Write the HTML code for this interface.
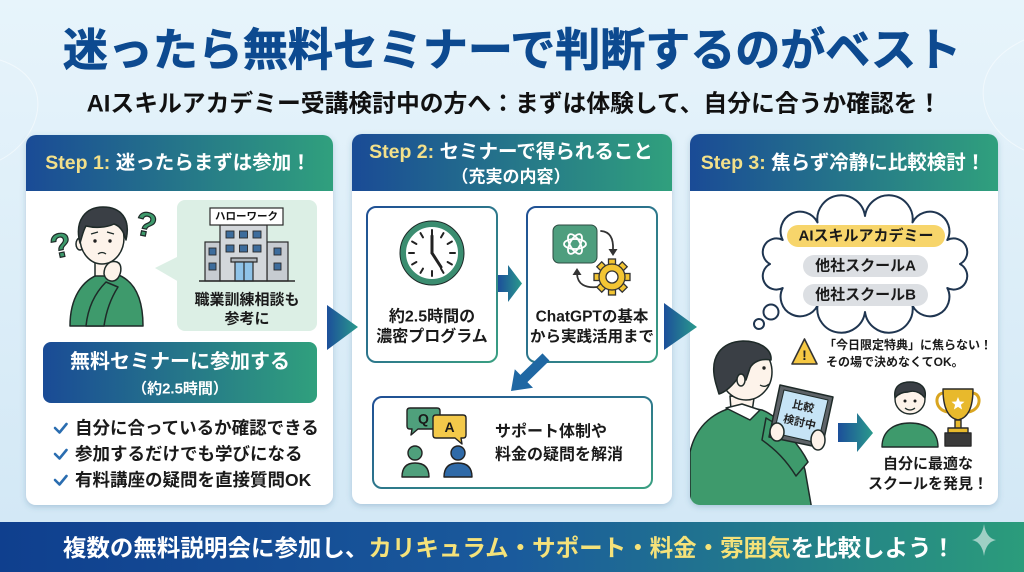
<!DOCTYPE html>
<html><head><meta charset="utf-8">
<style>
html,body{margin:0;padding:0;width:1024px;height:572px;overflow:hidden;background:#dcedf8;}
svg{display:block;}
text{font-family:"Liberation Sans","Noto Sans CJK JP",sans-serif;font-weight:700;}
</style></head>
<body>
<svg width="1024" height="572" viewBox="0 0 1024 572" xmlns="http://www.w3.org/2000/svg">
<defs>
  <linearGradient id="bg" x1="0" y1="0" x2="0" y2="1">
    <stop offset="0" stop-color="#e7f4fb"/><stop offset="1" stop-color="#d1e7f5"/>
  </linearGradient>
  <linearGradient id="hdr" x1="0" y1="0" x2="1" y2="0">
    <stop offset="0" stop-color="#1a4b96"/><stop offset="1" stop-color="#30a07d"/>
  </linearGradient>
  <linearGradient id="bar" x1="0" y1="0" x2="1" y2="0">
    <stop offset="0" stop-color="#0f3f8e"/><stop offset="0.5" stop-color="#1a5a9c"/><stop offset="1" stop-color="#2b9c7b"/>
  </linearGradient>
  <linearGradient id="arr" x1="0" y1="0" x2="1" y2="0">
    <stop offset="0" stop-color="#1c4f9a"/><stop offset="1" stop-color="#2a9a8c"/>
  </linearGradient>
  <linearGradient id="bord" x1="0" y1="0" x2="1" y2="1">
    <stop offset="0" stop-color="#1f4f95"/><stop offset="1" stop-color="#3a9f82"/>
  </linearGradient>
  <filter id="sh" x="-5%" y="-5%" width="110%" height="110%">
    <feDropShadow dx="0" dy="2" stdDeviation="3" flood-color="#2a5a8a" flood-opacity="0.25"/>
  </filter>
  <clipPath id="p3clip"><path d="M690,191 H998 V495 A10,10 0 0 1 988,505 H700 A10,10 0 0 1 690,495 Z"/></clipPath>
</defs>

<rect x="0" y="0" width="1024" height="572" fill="url(#bg)"/>
<g stroke="#ffffff" stroke-opacity="0.5" fill="none" stroke-width="1">
  <path d="M0,60 C60,80 40,140 0,160"/>
  <path d="M1024,40 C960,70 980,130 1024,150"/>
</g>

<text x="512" y="50" font-size="45" font-weight="900" fill="#0d4a90" text-anchor="middle" dominant-baseline="central" stroke="#0d4a90" stroke-width="0.8">迷ったら無料セミナーで判断するのがベスト</text>
<text x="514" y="104" font-size="23.8" fill="#111" text-anchor="middle" dominant-baseline="central">AIスキルアカデミー受講検討中の方へ：まずは体験して、自分に合うか確認を！</text>

<rect x="26" y="135" width="307" height="370" rx="10" fill="#fff" filter="url(#sh)"/>
<rect x="352" y="134" width="320" height="370" rx="10" fill="#fff" filter="url(#sh)"/>
<rect x="690" y="134" width="308" height="371" rx="10" fill="#fff" filter="url(#sh)"/>
<path d="M26,191 V145 A10,10 0 0 1 36,135 H323 A10,10 0 0 1 333,145 V191 Z" fill="url(#hdr)"/>
<path d="M352,191 V144 A10,10 0 0 1 362,134 H662 A10,10 0 0 1 672,144 V191 Z" fill="url(#hdr)"/>
<path d="M690,191 V144 A10,10 0 0 1 700,134 H988 A10,10 0 0 1 998,144 V191 Z" fill="url(#hdr)"/>

<text x="178" y="163" font-size="19.5" fill="#fff" text-anchor="middle" dominant-baseline="central"><tspan fill="#f3e08a">Step 1:</tspan> 迷ったらまずは参加！</text>
<text x="511" y="152" font-size="19.5" fill="#fff" text-anchor="middle" dominant-baseline="central"><tspan fill="#f3e08a">Step 2:</tspan> セミナーで得られること</text>
<text x="511" y="177" font-size="17" fill="#fff" text-anchor="middle" dominant-baseline="central">（充実の内容）</text>
<text x="843" y="163" font-size="19.5" fill="#fff" text-anchor="middle" dominant-baseline="central"><tspan fill="#f3e08a">Step 3:</tspan> 焦らず冷静に比較検討！</text>

<polygon points="327,305 358,327 327,350" fill="url(#arr)"/>
<polygon points="664,303 697,327 664,350" fill="url(#arr)"/>

<!-- Panel 1 -->
<rect x="177" y="200" width="140" height="131" rx="8" fill="#dcefe5"/>
<polygon points="179,256 155,268 179,282" fill="#dcefe5"/>
<g stroke="#2a2a2a" stroke-width="1.2">
  <rect x="205" y="242" width="15" height="39" fill="#c7ccd1"/>
  <rect x="267" y="242" width="21" height="39" fill="#c7ccd1"/>
  <rect x="220" y="225" width="47" height="56" fill="#d3d7db"/>
  <rect x="210" y="208" width="73" height="17" fill="#fff"/>
  <g fill="#3d6c9c" stroke-width="0.9">
    <rect x="226" y="231" width="8" height="7"/><rect x="239.5" y="231" width="8" height="7"/><rect x="253" y="231" width="8" height="7"/>
    <rect x="226" y="245" width="8" height="7"/><rect x="239.5" y="245" width="8" height="7"/><rect x="253" y="245" width="8" height="7"/>
    <rect x="209" y="248" width="7" height="7"/><rect x="209" y="263" width="7" height="7"/>
    <rect x="274" y="248" width="7" height="7"/><rect x="274" y="263" width="7" height="7"/>
  </g>
  <rect x="231" y="258" width="26" height="4" fill="#aeb4ba"/>
  <rect x="235" y="262" width="18" height="19" fill="#8fc3e8"/>
  <line x1="244" y1="262" x2="244" y2="281"/>
  <line x1="199" y1="281" x2="295" y2="281" stroke-width="1.5"/>
</g>
<text x="246.5" y="216.5" font-size="10.5" fill="#111" text-anchor="middle" dominant-baseline="central" font-weight="400">ハローワーク</text>
<text x="247" y="300" font-size="15" fill="#1a1a1a" text-anchor="middle" dominant-baseline="central">職業訓練相談も</text>
<text x="247" y="319" font-size="15" fill="#1a1a1a" text-anchor="middle" dominant-baseline="central">参考に</text>

<g stroke="#1e2a28" stroke-width="1.5" stroke-linejoin="round">
  <path d="M70,326 C70,298 82,280 100,274 L116,274 C134,280 143,298 143,326 Z" fill="#3e9a6c"/>
  <path d="M95,258 L95,276 L111,276 L111,258 Z" fill="#fdf3ea"/>
  <ellipse cx="80" cy="244" rx="4" ry="6" fill="#fdf3ea"/>
  <ellipse cx="102" cy="238" rx="22" ry="26" fill="#fdf3ea"/>
  <path d="M80,243 C74,220 86,207 103,207 C121,207 131,219 126,240 C124,232 120,226 114,224 C106,228 94,228 86,226 C83,231 82,237 80,243 Z" fill="#3a3f45"/>
  <path d="M86,326 C88,306 96,292 106,282 L118,287 C111,298 106,312 104,326 Z" fill="#3e9a6c"/>
  <path d="M104,274 C104,265 110,260 117,262 C122,264 122,272 118,278 C114,283 106,282 104,274 Z" fill="#fdf3ea"/>
  <path d="M91,234 L98,232 M107,232 L114,234" fill="none" stroke-width="1.3"/>
  <path d="M98,254 Q102,251 106,254" fill="none" stroke-width="1.3"/>
</g>
<circle cx="95" cy="241" r="1.7" fill="#222"/><circle cx="110" cy="241" r="1.7" fill="#222"/>
<text x="61" y="246" font-size="34" fill="#3e9a6c" stroke="#1e2a28" stroke-width="1.2" text-anchor="middle" dominant-baseline="central" transform="rotate(-12 61 246)">?</text>
<text x="146" y="225" font-size="34" fill="#3e9a6c" stroke="#1e2a28" stroke-width="1.2" text-anchor="middle" dominant-baseline="central" transform="rotate(12 146 225)">?</text>

<rect x="43" y="342" width="274" height="61" rx="8" fill="url(#hdr)"/>
<text x="180" y="362" font-size="20" fill="#fff" text-anchor="middle" dominant-baseline="central">無料セミナーに参加する</text>
<text x="180" y="389" font-size="15" fill="#fff" text-anchor="middle" dominant-baseline="central">（約2.5時間）</text>

<g stroke="#2a6db0" stroke-width="2.6" fill="none" stroke-linecap="round" stroke-linejoin="round">
  <polyline points="55,428 59.5,432.5 66.5,424"/>
  <polyline points="55,454 59.5,458.5 66.5,450"/>
  <polyline points="55,480 59.5,484.5 66.5,476"/>
</g>
<g font-size="17.5" fill="#1a1a1a" dominant-baseline="central">
  <text x="75" y="428">自分に合っているか確認できる</text>
  <text x="75" y="454">参加するだけでも学びになる</text>
  <text x="75" y="480">有料講座の疑問を直接質問OK</text>
</g>

<!-- Panel 2 -->
<rect x="367" y="207" width="130" height="155" rx="9" fill="#fff" stroke="url(#bord)" stroke-width="2"/>
<rect x="527" y="207" width="130" height="155" rx="9" fill="#fff" stroke="url(#bord)" stroke-width="2"/>
<rect x="373" y="397" width="279" height="91" rx="9" fill="#fff" stroke="url(#bord)" stroke-width="2"/>

<circle cx="432" cy="253" r="29" fill="#fff" stroke="#3b8d70" stroke-width="6"/>
<circle cx="432" cy="253" r="32" fill="none" stroke="#1e2a28" stroke-width="1"/>
<g stroke="#222" stroke-width="2" stroke-linecap="round">
  <line x1="432" y1="230" x2="432" y2="235"/>
  <line x1="432" y1="230" x2="432" y2="235" transform="rotate(30 432 253)"/>
  <line x1="432" y1="230" x2="432" y2="235" transform="rotate(60 432 253)"/>
  <line x1="432" y1="230" x2="432" y2="235" transform="rotate(90 432 253)"/>
  <line x1="432" y1="230" x2="432" y2="235" transform="rotate(120 432 253)"/>
  <line x1="432" y1="230" x2="432" y2="235" transform="rotate(150 432 253)"/>
  <line x1="432" y1="230" x2="432" y2="235" transform="rotate(180 432 253)"/>
  <line x1="432" y1="230" x2="432" y2="235" transform="rotate(210 432 253)"/>
  <line x1="432" y1="230" x2="432" y2="235" transform="rotate(240 432 253)"/>
  <line x1="432" y1="230" x2="432" y2="235" transform="rotate(270 432 253)"/>
  <line x1="432" y1="230" x2="432" y2="235" transform="rotate(300 432 253)"/>
  <line x1="432" y1="230" x2="432" y2="235" transform="rotate(330 432 253)"/>
  <line x1="432" y1="253" x2="432" y2="236" stroke-width="3"/>
  <line x1="432" y1="253" x2="441" y2="267" stroke-width="3"/>
</g>
<text x="432" y="317" font-size="16" fill="#1a1a1a" text-anchor="middle" dominant-baseline="central">約2.5時間の</text>
<text x="432" y="337" font-size="16" fill="#1a1a1a" text-anchor="middle" dominant-baseline="central">濃密プログラム</text>

<polygon points="498,275 508,275 508,265 522,283.5 508,302 508,292 498,292" fill="url(#arr)"/>

<rect x="553" y="225" width="44" height="38" rx="6" fill="#4e9e7e" stroke="#2c4a40" stroke-width="1"/>
<g fill="none" stroke="#fff" stroke-width="1.8">
  <ellipse cx="575" cy="244" rx="11" ry="5"/>
  <ellipse cx="575" cy="244" rx="11" ry="5" transform="rotate(60 575 244)"/>
  <ellipse cx="575" cy="244" rx="11" ry="5" transform="rotate(120 575 244)"/>
</g>
<g fill="none" stroke="#333" stroke-width="1.8" stroke-linecap="round">
  <path d="M601,231 Q614,232 613,250"/>
  <path d="M598,287 Q578,289 577,274"/>
</g>
<polygon points="608.5,249 617.5,249 613,256" fill="#333"/>
<polygon points="572.5,275 581.5,275 577,268" fill="#333"/>
<g transform="translate(612,277)" stroke="#333" stroke-width="1.3">
  <g fill="#f3c533">
    <rect x="-3.5" y="-18" width="7" height="8"/>
    <rect x="-3.5" y="-18" width="7" height="8" transform="rotate(45)"/>
    <rect x="-3.5" y="-18" width="7" height="8" transform="rotate(90)"/>
    <rect x="-3.5" y="-18" width="7" height="8" transform="rotate(135)"/>
    <rect x="-3.5" y="-18" width="7" height="8" transform="rotate(180)"/>
    <rect x="-3.5" y="-18" width="7" height="8" transform="rotate(225)"/>
    <rect x="-3.5" y="-18" width="7" height="8" transform="rotate(270)"/>
    <rect x="-3.5" y="-18" width="7" height="8" transform="rotate(315)"/>
  </g>
  <circle r="13" fill="#f3c533"/>
  <circle r="6" fill="#fff"/>
</g>
<text x="592" y="317" font-size="15.5" fill="#1a1a1a" text-anchor="middle" dominant-baseline="central">ChatGPTの基本</text>
<text x="592" y="337" font-size="15.5" fill="#1a1a1a" text-anchor="middle" dominant-baseline="central">から実践活用まで</text>

<polygon points="542.5,353.4 549.5,360.6 527.4,382.1 533,387.8 511,391 514.8,369.2 520.4,374.9" fill="#1f67a3"/>

<g stroke="#222" stroke-width="1.4" stroke-linejoin="round">
  <path d="M407,411 Q407,408 410,408 H437 Q440,408 440,411 V426 Q440,429 437,429 H418 L411,435 L412,429 H410 Q407,429 407,426 Z" fill="#4fa07c"/>
  <path d="M433,418 Q433,415 436,415 H463 Q466,415 466,418 V435 Q466,438 463,438 H461 L462,444 L455,438 H436 Q433,438 433,435 Z" fill="#f3c94a"/>
  <circle cx="415" cy="453" r="7" fill="#4fa07c"/>
  <path d="M402,477 Q402,463 415,463 Q429,463 429,477 Z" fill="#4fa07c"/>
  <circle cx="458" cy="453" r="7" fill="#2f6aa8"/>
  <path d="M444,477 Q444,463 458,463 Q472,463 472,477 Z" fill="#2f6aa8"/>
</g>
<text x="423.5" y="418.5" font-size="14" fill="#1a1a1a" text-anchor="middle" dominant-baseline="central">Q</text>
<text x="449.5" y="427" font-size="14" fill="#1a1a1a" text-anchor="middle" dominant-baseline="central">A</text>
<text x="495" y="432" font-size="16" fill="#1a1a1a" dominant-baseline="central">サポート体制や</text>
<text x="495" y="455" font-size="16" fill="#1a1a1a" dominant-baseline="central">料金の疑問を解消</text>

<!-- Panel 3 -->
<path d="M960,264 A1,1 0 0 1 947.3,288 A1,1 0 0 1 912.5,305.6 A1,1 0 0 1 865,312 A1,1 0 0 1 817.5,305.6 A1,1 0 0 1 782.7,288 A1,1 0 0 1 770,264 A1,1 0 0 1 782.7,240 A1,1 0 0 1 817.5,222.4 A1,1 0 0 1 865,216 A1,1 0 0 1 912.5,222.4 A1,1 0 0 1 947.3,240 A1,1 0 0 1 960,264 Z" fill="#fff" stroke="#1f3550" stroke-width="2" stroke-linejoin="round"/>
<circle cx="771" cy="312" r="7.5" fill="#fff" stroke="#1f3550" stroke-width="2"/>
<circle cx="759" cy="324" r="5" fill="#fff" stroke="#1f3550" stroke-width="2"/>
<rect x="787" y="225" width="158" height="22" rx="11" fill="#f7d56b"/>
<rect x="803" y="255" width="125" height="22" rx="11" fill="#dcdfe3"/>
<rect x="803" y="284" width="125" height="22" rx="11" fill="#dcdfe3"/>
<text x="866" y="236" font-size="15" fill="#1a1a1a" text-anchor="middle" dominant-baseline="central">AIスキルアカデミー</text>
<text x="865.5" y="266" font-size="15" fill="#1a1a1a" text-anchor="middle" dominant-baseline="central">他社スクールA</text>
<text x="865.5" y="295" font-size="15" fill="#1a1a1a" text-anchor="middle" dominant-baseline="central">他社スクールB</text>

<polygon points="804.5,339 792,364 817,364" fill="#f6c843" stroke="#333" stroke-width="1.6" stroke-linejoin="round"/>
<text x="804.5" y="355" font-size="14" fill="#222" text-anchor="middle" dominant-baseline="central">!</text>
<text x="824" y="345" font-size="12" fill="#1a1a1a" dominant-baseline="central">「今日限定特典」に焦らない！</text>
<text x="826" y="362" font-size="12" fill="#1a1a1a" dominant-baseline="central">その場で決めなくてOK。</text>

<g clip-path="url(#p3clip)" stroke="#1e2a28" stroke-width="1.5" stroke-linejoin="round">
  <path d="M690,510 L690,452 C696,425 715,410 740,406 L762,410 C782,418 796,440 805,470 L812,510 Z" fill="#3e9a6c"/>
  <path d="M730,396 L731,410 L752,412 L754,398 Z" fill="#fdf3ea"/>
  <path d="M726,408 L742,404 L760,410 L750,420 Z" fill="#fff"/>
  <ellipse cx="746" cy="372" rx="26" ry="28" fill="#fdf3ea"/>
  <path d="M716,384 C708,356 722,342 743,341 C761,341 772,350 771,360 C761,358 753,362 750,368 L746,380 L738,378 C732,386 726,392 719,394 Z" fill="#3a3f45"/>
  <ellipse cx="741" cy="380" rx="4" ry="6" fill="#fdf3ea"/>
  <path d="M760,385 Q765,388 769,384" fill="none" stroke-width="1.3"/>
  <path d="M766,418 C785,428 800,446 808,462 L796,476 C786,460 776,450 762,440 Z" fill="#3e9a6c"/>
  <polygon points="780,385 833,397 822,448 769,437" fill="#5e6368"/>
  <polygon points="784,390 828,400 818,443 774,433" fill="#c6e4f6" stroke-width="1"/>
  <ellipse cx="777" cy="432" rx="7" ry="9" fill="#fdf3ea"/>
  <ellipse cx="818" cy="440" rx="7" ry="10" fill="#fdf3ea"/>
</g>
<circle cx="764" cy="368" r="1.7" fill="#222"/>
<g transform="rotate(13 801 416)">
  <text x="801" y="407" font-size="11" fill="#222" text-anchor="middle" dominant-baseline="central" font-weight="400">比較</text>
  <text x="801" y="423" font-size="11" fill="#222" text-anchor="middle" dominant-baseline="central" font-weight="400">検討中</text>
</g>

<polygon points="838,423 857,423 857,413 873,433 857,452 857,442 838,442" fill="url(#arr)"/>

<g stroke="#1e2a28" stroke-width="1.4" stroke-linejoin="round">
  <path d="M882,447 C882,430 895,423 910,423 C925,423 938,430 938,447 Z" fill="#3e9a6c"/>
  <circle cx="910" cy="399" r="15" fill="#fdf3ea"/>
  <path d="M895,398 C893,385 902,382 910,382 C920,382 927,387 925,398 C920,392 914,390 908,392 C902,392 898,394 895,398 Z" fill="#3a3f45"/>
  <path d="M905,408 Q910,412 915,408" fill="none" stroke-width="1.2"/>
</g>
<circle cx="905" cy="401" r="1.5" fill="#222"/><circle cx="915" cy="401" r="1.5" fill="#222"/>
<g stroke="#2a2a2a" stroke-width="1.4" stroke-linejoin="round">
  <path d="M944,393 C934,393 934,410 948,412" fill="none" stroke="#d9a520" stroke-width="3"/>
  <path d="M972,393 C982,393 982,410 968,412" fill="none" stroke="#d9a520" stroke-width="3"/>
  <path d="M943,389 H973 C973,408 968,418 958,420 C948,418 943,408 943,389 Z" fill="#e8b92c"/>
  <rect x="955" y="420" width="6" height="9" fill="#e8b92c"/>
  <rect x="948" y="428" width="20" height="5" fill="#e8b92c"/>
  <rect x="945" y="433" width="26" height="13" fill="#3a3a3a"/>
</g>
<polygon points="958,397 959.8,401.5 964.5,401.8 960.9,404.8 962.1,409.5 958,406.9 953.9,409.5 955.1,404.8 951.5,401.8 956.2,401.5" fill="#fff"/>
<text x="928" y="464" font-size="15" fill="#1a1a1a" text-anchor="middle" dominant-baseline="central">自分に最適な</text>
<text x="928" y="484" font-size="15" fill="#1a1a1a" text-anchor="middle" dominant-baseline="central">スクールを発見！</text>

<rect x="0" y="522" width="1024" height="50" fill="url(#bar)"/>
<text x="509" y="548" font-size="23.5" fill="#fff" text-anchor="middle" dominant-baseline="central">複数の無料説明会に参加し、<tspan fill="#f5e27a">カリキュラム・サポート・料金・雰囲気</tspan>を比較しよう！</text>
<path d="M984,524 Q986,538 996,540 Q986,542 984,556 Q982,542 972,540 Q982,538 984,524 Z" fill="#ffffff" fill-opacity="0.55"/>
</svg>
</body></html>
